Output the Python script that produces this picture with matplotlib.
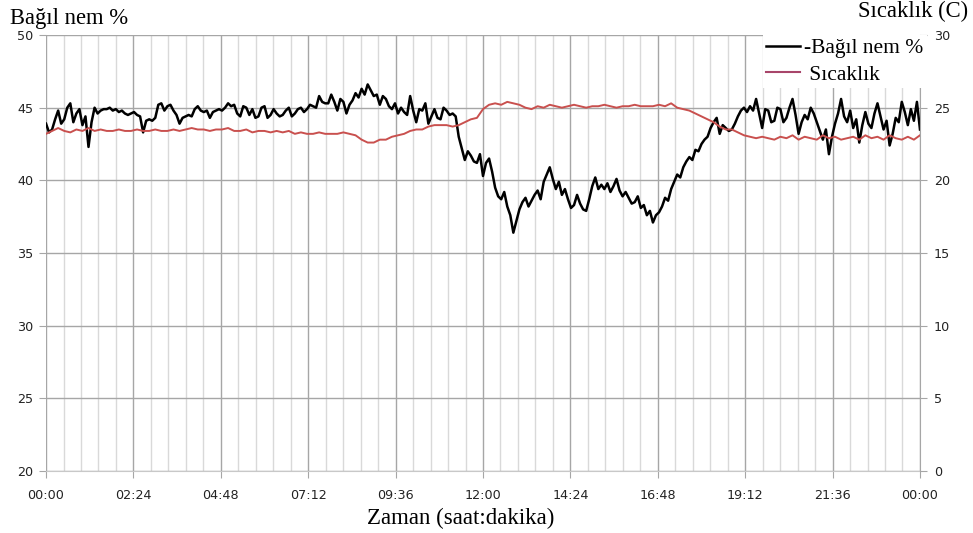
import numpy as np
import matplotlib
matplotlib.use("Agg")
import matplotlib.pyplot as plt
from matplotlib.lines import Line2D

# humidity read every 5 min, temperature every 10 min, over one day
hum_minutes = np.arange(0, 1441, 5)
temp_minutes = np.arange(0, 1441, 10)

humidity = [
    43.9, 43.3, 43.5, 44.2, 44.8, 43.9, 44.2, 45.0, 45.3, 44.0,
    44.6, 44.9, 43.8, 44.4, 42.3, 44.0, 45.0, 44.6, 44.8, 44.9,
    44.9, 45.0, 44.8, 44.9, 44.7, 44.8, 44.6, 44.5, 44.6, 44.7,
    44.5, 44.4, 43.3, 44.1, 44.2, 44.1, 44.3, 45.2, 45.3, 44.8,
    45.1, 45.2, 44.8, 44.5, 43.9, 44.3, 44.4, 44.5, 44.4, 44.9,
    45.1, 44.8, 44.7, 44.8, 44.3, 44.7, 44.8, 44.9, 44.8, 45.0,
    45.3, 45.1, 45.2, 44.6, 44.4, 45.1, 45.0, 44.5, 44.9, 44.3,
    44.4, 45.0, 45.1, 44.3, 44.5, 44.9, 44.6, 44.4, 44.5, 44.8,
    45.0, 44.4, 44.6, 44.9, 45.0, 44.7, 44.9, 45.2, 45.1, 45.0,
    45.8, 45.4, 45.3, 45.3, 45.9, 45.4, 44.8, 45.6, 45.4, 44.6,
    45.2, 45.5, 46.0, 45.7, 46.3, 45.9, 46.6, 46.2, 45.8, 45.9,
    45.2, 45.8, 45.6, 45.1, 44.9, 45.3, 44.6, 45.0, 44.7, 44.5,
    45.8, 44.8, 44.0, 44.9, 44.8, 45.3, 43.9, 44.4, 44.9, 44.3,
    44.2, 45.0, 44.8, 44.5, 44.6, 44.4, 43.0, 42.2, 41.4, 42.0,
    41.7, 41.3, 41.2, 41.8, 40.3, 41.2, 41.5, 40.6, 39.5, 38.9,
    38.7, 39.2, 38.2, 37.6, 36.4, 37.2, 38.0, 38.5, 38.8, 38.2,
    38.6, 39.0, 39.3, 38.7, 39.9, 40.4, 40.9, 40.1, 39.4, 39.9,
    39.0, 39.4, 38.7, 38.1, 38.3, 39.0, 38.4, 38.0, 37.9, 38.7,
    39.6, 40.2, 39.4, 39.7, 39.4, 39.8, 39.2, 39.6, 40.1, 39.3,
    38.9, 39.2, 38.8, 38.4, 38.5, 38.9, 38.1, 38.3, 37.6, 37.9,
    37.1, 37.6, 37.8, 38.2, 38.8, 38.6, 39.4, 39.9, 40.4, 40.2,
    40.9, 41.3, 41.6, 41.4, 42.1, 42.0, 42.5, 42.8, 43.0, 43.6,
    44.0, 44.3, 43.2, 43.8, 43.6, 43.4, 43.5, 43.9, 44.4, 44.8,
    45.0, 44.7, 45.1, 44.8, 45.6, 44.6, 43.6, 44.9, 44.8, 44.0,
    44.1, 45.0, 44.9, 44.0, 44.3, 45.0, 45.6, 44.5, 43.2, 44.0,
    44.5, 44.2, 45.0, 44.6, 44.0, 43.4, 42.8, 43.5, 41.8, 43.0,
    43.9, 44.6, 45.6, 44.4, 44.0, 44.8, 43.6, 44.2, 42.6, 43.8,
    44.7, 43.9, 43.6, 44.6, 45.3, 44.4, 43.5, 44.1, 42.4, 43.2,
    44.3, 44.0, 45.4, 44.7, 43.8, 44.9, 44.1, 45.4, 43.5,
]

temperature = [
    23.2, 23.4, 23.6, 23.4, 23.3, 23.5, 23.4, 23.6, 23.4, 23.5,
    23.4, 23.4, 23.5, 23.4, 23.4, 23.5, 23.4, 23.4, 23.5, 23.4,
    23.4, 23.5, 23.4, 23.5, 23.6, 23.5, 23.5, 23.4, 23.5, 23.5,
    23.6, 23.4, 23.4, 23.5, 23.3, 23.4, 23.4, 23.3, 23.4, 23.3,
    23.4, 23.2, 23.3, 23.2, 23.2, 23.3, 23.2, 23.2, 23.2, 23.3,
    23.2, 23.1, 22.8, 22.6, 22.6, 22.8, 22.8, 23.0, 23.1, 23.2,
    23.4, 23.5, 23.5, 23.7, 23.8, 23.8, 23.8, 23.7, 23.8, 24.0,
    24.2, 24.3, 24.9, 25.2, 25.3, 25.2, 25.4, 25.3, 25.2, 25.0,
    24.9, 25.1, 25.0, 25.2, 25.1, 25.0, 25.1, 25.2, 25.1, 25.0,
    25.1, 25.1, 25.2, 25.1, 25.0, 25.1, 25.1, 25.2, 25.1, 25.1,
    25.1, 25.2, 25.1, 25.3, 25.0, 24.9, 24.8, 24.6, 24.4, 24.2,
    24.0, 23.7, 23.5, 23.5, 23.3, 23.1, 23.0, 22.9, 23.0, 22.9,
    22.8, 23.0, 22.9, 23.1, 22.8, 23.0, 22.9, 22.8, 23.1, 22.9,
    23.0, 22.8, 22.9, 23.0, 22.8, 23.1, 22.9, 23.0, 22.8, 23.1,
    22.9, 22.8, 23.0, 22.8, 23.1,
]

hum_ticks = [20, 25, 30, 35, 40, 45, 50]
temp_ticks = [0, 5, 10, 15, 20, 25, 30]
time_ticks = np.arange(0, 1441, 144)
time_labels = ["%02d:%02d" % ((t // 60) % 24, t % 60) for t in time_ticks]

serif = "Liberation Serif"
major_grey = "#a6a6a6"
minor_grey = "#d9d9d9"

fig = plt.figure(figsize=(9.73, 5.33), dpi=100)
ax = fig.add_axes([0.0473, 0.1163, 0.8982, 0.818])

ax.plot(hum_minutes, humidity, color="black", lw=1.8, zorder=3)
ax.set_xlim(0, 1440)
ax.set_ylim(20, 50)
ax.set_yticks(hum_ticks)
ax.set_xticks(time_ticks)
ax.set_xticklabels(time_labels)
ax.set_xticks(np.arange(0, 1441, 28.8), minor=True)

ax.grid(axis="y", color=major_grey, lw=1.0)
ax.grid(axis="x", which="major", color=major_grey, lw=1.0)
ax.grid(axis="x", which="minor", color=minor_grey, lw=1.0)
ax.set_axisbelow(True)

for s in ["top", "right", "left"]:
    ax.spines[s].set_visible(False)
ax.spines["bottom"].set_color("#c8c8c8")
ax.tick_params(axis="x", which="major", length=5, color=major_grey,
               labelsize=9.2, labelcolor="#222222", pad=8)
ax.tick_params(axis="x", which="minor", length=0)
ax.tick_params(axis="y", length=5, color=major_grey, labelsize=9.2,
               labelcolor="#222222", pad=4)

ax2 = ax.twinx()
ax2.plot(temp_minutes, temperature, color="#c9504e", lw=1.4, zorder=3)
ax2.set_ylim(0, 30)
ax2.set_yticks(temp_ticks)
for s in ["top", "left", "bottom"]:
    ax2.spines[s].set_visible(False)
ax2.spines["right"].set_color(major_grey)
ax2.tick_params(axis="y", length=5, color=major_grey, labelsize=9.2,
                labelcolor="#222222", pad=5)

fig.text(0.010, 0.966, "Bağıl nem %", family=serif, fontsize=16.3, ha="left", va="center")
fig.text(0.995, 0.978, "Sıcaklık (C)", family=serif, fontsize=16.3, ha="right", va="center")
fig.text(0.473, 0.028, "Zaman (saat:dakika)", family=serif, fontsize=16.5, ha="center", va="center")

handles = [Line2D([], [], color="black", lw=1.8),
           Line2D([], [], color="#a8456a", lw=1.5)]
leg = ax2.legend(handles, ["-Bağıl nem %", " Sıcaklık"], loc="upper right",
                 bbox_to_anchor=(1.008, 1.0), prop={"family": serif, "size": 15.5},
                 frameon=True, fancybox=False, handlelength=1.6, handletextpad=0.2,
                 labelspacing=0.3, borderpad=0.15, borderaxespad=0.0)
leg.get_frame().set_facecolor("white")
leg.get_frame().set_edgecolor("none")
leg.get_frame().set_alpha(1.0)

fig.savefig("out.png", dpi=100)
